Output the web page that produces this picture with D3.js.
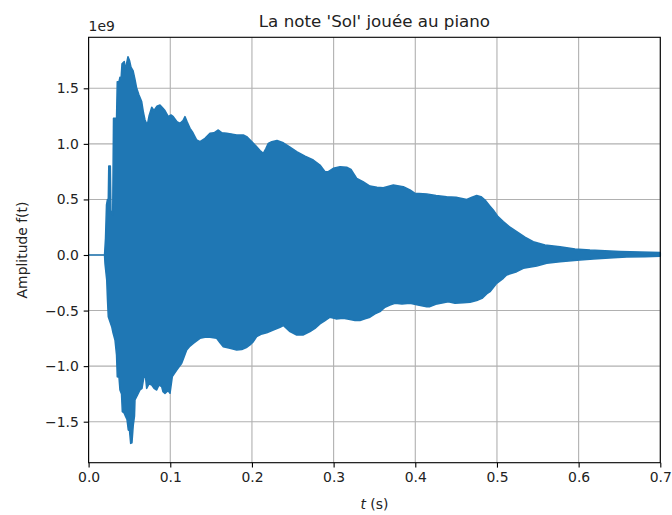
<!DOCTYPE html>
<html>
<head>
<meta charset="utf-8">
<script src="https://cdn.jsdelivr.net/npm/d3@7"></script>
<style>
  html, body { margin: 0; padding: 0; background: #ffffff; }
  svg { display: block; font-family: "DejaVu Sans", sans-serif; }
</style>
</head>
<body>
<svg id="chart" width="672" height="515"></svg>
<script>
// Piano note "Sol": amplitude envelope of the recorded waveform (units of 1e9).
// Upper envelope: [time in s, amplitude]
const upperEnvelope = [
  [0.0000, 0], [0.0195, 0], [0.0207, 0.15], [0.0219, 0.45], [0.0231, 0.50], [0.0241, 0.50],
  [0.0247, 0.80], [0.0266, 0.80], [0.0274, 0.40], [0.0295, 0.36], [0.0305, 1.23], [0.0342, 1.23],
  [0.0351, 1.56], [0.0372, 1.56], [0.0384, 1.60], [0.0397, 1.58], [0.0409, 1.72], [0.0437, 1.74],
  [0.0452, 1.66], [0.0464, 1.72], [0.0482, 1.785], [0.0501, 1.75], [0.0519, 1.69], [0.0544, 1.66],
  [0.0568, 1.58], [0.0589, 1.50], [0.0617, 1.44], [0.0650, 1.38], [0.0672, 1.28], [0.0691, 1.215],
  [0.0719, 1.17], [0.0740, 1.25], [0.0773, 1.33], [0.0801, 1.30], [0.0837, 1.34], [0.0874, 1.35],
  [0.0911, 1.32], [0.0935, 1.30], [0.0976, 1.245], [0.1009, 1.26], [0.1037, 1.245], [0.1082, 1.20],
  [0.1119, 1.185], [0.1156, 1.21], [0.1180, 1.245], [0.1205, 1.20], [0.1242, 1.14], [0.1278, 1.10],
  [0.1324, 1.035], [0.1364, 1.02], [0.1425, 1.05], [0.1486, 1.095], [0.1535, 1.10], [0.1588, 1.125],
  [0.1633, 1.10], [0.1691, 1.095], [0.1744, 1.09], [0.1813, 1.08], [0.1894, 1.08], [0.1936, 1.065],
  [0.1997, 1.02], [0.2050, 0.98], [0.2099, 0.94], [0.2139, 0.915], [0.2172, 0.96], [0.2200, 1.005],
  [0.2242, 1.02], [0.2307, 1.03], [0.2384, 1.01], [0.2466, 0.97], [0.2548, 0.93], [0.2650, 0.89],
  [0.2751, 0.855], [0.2833, 0.81], [0.2895, 0.75], [0.2935, 0.75], [0.2996, 0.78], [0.3078, 0.795],
  [0.3160, 0.79], [0.3213, 0.77], [0.3283, 0.69], [0.3360, 0.66], [0.3445, 0.62], [0.3531, 0.61],
  [0.3608, 0.605], [0.3731, 0.63], [0.3853, 0.615], [0.3935, 0.585], [0.3997, 0.555], [0.4140, 0.55],
  [0.4254, 0.535], [0.4385, 0.525], [0.4499, 0.52], [0.4630, 0.50], [0.4694, 0.52], [0.4752, 0.535],
  [0.4805, 0.525], [0.4854, 0.495], [0.4915, 0.44], [0.4955, 0.405], [0.5013, 0.345], [0.5078, 0.30],
  [0.5160, 0.25], [0.5242, 0.21], [0.5343, 0.16], [0.5445, 0.12], [0.5588, 0.09], [0.5772, 0.075],
  [0.5956, 0.055], [0.6139, 0.045], [0.6323, 0.038], [0.6507, 0.032], [0.6752, 0.026], [0.7000, 0.022]
];
// Lower envelope: [time in s, amplitude]
const lowerEnvelope = [
  [0.0000, 0], [0.0195, 0], [0.0201, -0.08], [0.0222, -0.225], [0.0231, -0.40], [0.0241, -0.555],
  [0.0262, -0.60], [0.0283, -0.645], [0.0299, -0.70], [0.0323, -0.765], [0.0342, -0.90], [0.0351, -1.095],
  [0.0372, -1.10], [0.0384, -1.215], [0.0403, -1.25], [0.0413, -1.41], [0.0433, -1.42], [0.0454, -1.455],
  [0.0470, -1.48], [0.0486, -1.575], [0.0501, -1.58], [0.0515, -1.695], [0.0531, -1.69], [0.0547, -1.53],
  [0.0562, -1.45], [0.0568, -1.305], [0.0599, -1.26], [0.0629, -1.215], [0.0654, -1.20], [0.0678, -1.095],
  [0.0697, -1.10], [0.0711, -1.20], [0.0740, -1.16], [0.0773, -1.17], [0.0801, -1.20], [0.0834, -1.215],
  [0.0862, -1.17], [0.0895, -1.185], [0.0911, -1.23], [0.0935, -1.245], [0.0972, -1.22], [0.0997, -1.245],
  [0.1025, -1.095], [0.1079, -1.035], [0.1140, -0.975], [0.1168, -0.92], [0.1201, -0.855], [0.1242, -0.82],
  [0.1282, -0.795], [0.1364, -0.75], [0.1425, -0.74], [0.1486, -0.74], [0.1568, -0.75], [0.1609, -0.79],
  [0.1649, -0.825], [0.1731, -0.84], [0.1813, -0.855], [0.1875, -0.85], [0.1939, -0.83], [0.1976, -0.81],
  [0.2017, -0.78], [0.2058, -0.735], [0.2123, -0.71], [0.2181, -0.70], [0.2261, -0.675], [0.2344, -0.65],
  [0.2384, -0.635], [0.2466, -0.69], [0.2548, -0.72], [0.2625, -0.72], [0.2711, -0.69], [0.2772, -0.66],
  [0.2833, -0.62], [0.2895, -0.59], [0.2956, -0.56], [0.3029, -0.575], [0.3119, -0.57], [0.3201, -0.58],
  [0.3262, -0.59], [0.3323, -0.59], [0.3384, -0.575], [0.3445, -0.56], [0.3507, -0.53], [0.3568, -0.51],
  [0.3629, -0.47], [0.3690, -0.45], [0.3752, -0.435], [0.3837, -0.44], [0.3935, -0.435], [0.4033, -0.45],
  [0.4140, -0.465], [0.4180, -0.465], [0.4266, -0.44], [0.4404, -0.42], [0.4486, -0.435], [0.4588, -0.43],
  [0.4670, -0.425], [0.4752, -0.41], [0.4817, -0.39], [0.4874, -0.35], [0.4915, -0.33], [0.4997, -0.255],
  [0.5078, -0.21], [0.5119, -0.18], [0.5242, -0.15], [0.5323, -0.12], [0.5487, -0.10], [0.5609, -0.075],
  [0.5772, -0.06], [0.6017, -0.045], [0.6180, -0.035], [0.6425, -0.025], [0.6589, -0.018], [0.6813, -0.015],
  [0.7000, -0.012]
];

const xTicks = [0.0, 0.1, 0.2, 0.3, 0.4, 0.5, 0.6, 0.7];
const yTicks = [-1.5, -1.0, -0.5, 0.0, 0.5, 1.0, 1.5];
const titleText = "La note 'Sol' jouée au piano";
const yLabelText = "Amplitude f(t)";
const offsetText = "1e9";

const W = 672, H = 515;
const margin = { left: 88.6, right: 11.7, top: 37.3, bottom: 52.3 };
const plotW = W - margin.left - margin.right;
const plotH = H - margin.top - margin.bottom;
const lineColor = "#1f77b4";

// y range: data extent padded by 5% on each side
const allVals = upperEnvelope.concat(lowerEnvelope).map(d => d[1]);
const vMin = d3.min(allVals), vMax = d3.max(allVals);
const pad = (vMax - vMin) * 0.05;

const x = d3.scaleLinear().domain([0, 0.7]).range([0, plotW]);
const y = d3.scaleLinear().domain([vMin - pad, vMax + pad]).range([plotH, 0]);

const svg = d3.select("#chart");
const g = svg.append("g").attr("transform", `translate(${margin.left},${margin.top})`);

// grid
const grid = g.append("g").attr("stroke", "#b0b0b0").attr("stroke-width", 1.1);
grid.selectAll("line.gx").data(xTicks).join("line")
  .attr("x1", d => x(d)).attr("x2", d => x(d)).attr("y1", 0).attr("y2", plotH);
grid.selectAll("line.gy").data(yTicks).join("line")
  .attr("y1", d => y(d)).attr("y2", d => y(d)).attr("x1", 0).attr("x2", plotW);

// waveform band (upper envelope forward, lower envelope backward)
const band = upperEnvelope.concat(lowerEnvelope.slice().reverse());
const line = d3.line().x(d => x(d[0])).y(d => y(d[1]));
g.append("path")
  .attr("d", line(band) + "Z")
  .attr("fill", lineColor)
  .attr("stroke", lineColor)
  .attr("stroke-width", 1.5)
  .attr("stroke-linejoin", "round");

// axes
const fmt = d => d3.format(".1f")(d).replace("-", "\u2212");
const xAxis = d3.axisBottom(x).tickValues(xTicks).tickFormat(fmt).tickSizeOuter(0).tickSize(4.9).tickPadding(4.9);
const yAxis = d3.axisLeft(y).tickValues(yTicks).tickFormat(fmt).tickSizeOuter(0).tickSize(4.9).tickPadding(4.9);

const gx = g.append("g").attr("transform", `translate(0,${plotH})`).call(xAxis);
const gy = g.append("g").call(yAxis);
[gx, gy].forEach(a => {
  a.select(".domain").remove();
  a.selectAll(".tick line").attr("stroke", "#000").attr("stroke-width", 1.1);
  a.selectAll(".tick text").attr("fill", "#222").style("font-size", "13.9px").style("font-family", "DejaVu Sans");
});

// frame
g.append("rect").attr("x", 0).attr("y", 0).attr("width", plotW).attr("height", plotH)
  .attr("fill", "none").attr("stroke", "#000").attr("stroke-width", 1.1);

// title and labels
svg.append("text").attr("x", margin.left + plotW / 2).attr("y", 27)
  .attr("text-anchor", "middle").style("font-size", "16.7px").attr("fill", "#222").text(titleText);

svg.append("text").attr("x", margin.left).attr("y", 31)
  .attr("text-anchor", "start").style("font-size", "13.9px").attr("fill", "#222").text(offsetText);

svg.append("text")
  .attr("transform", `translate(27,${margin.top + plotH / 2}) rotate(-90)`)
  .attr("text-anchor", "middle").style("font-size", "13.9px").attr("fill", "#222").text(yLabelText);

const xl = svg.append("text").attr("x", margin.left + plotW / 2).attr("y", 509)
  .attr("text-anchor", "middle").style("font-size", "13.9px").attr("fill", "#222");
xl.append("tspan").attr("font-style", "italic").text("t");
xl.append("tspan").text(" (s)");
</script>
</body>
</html>
